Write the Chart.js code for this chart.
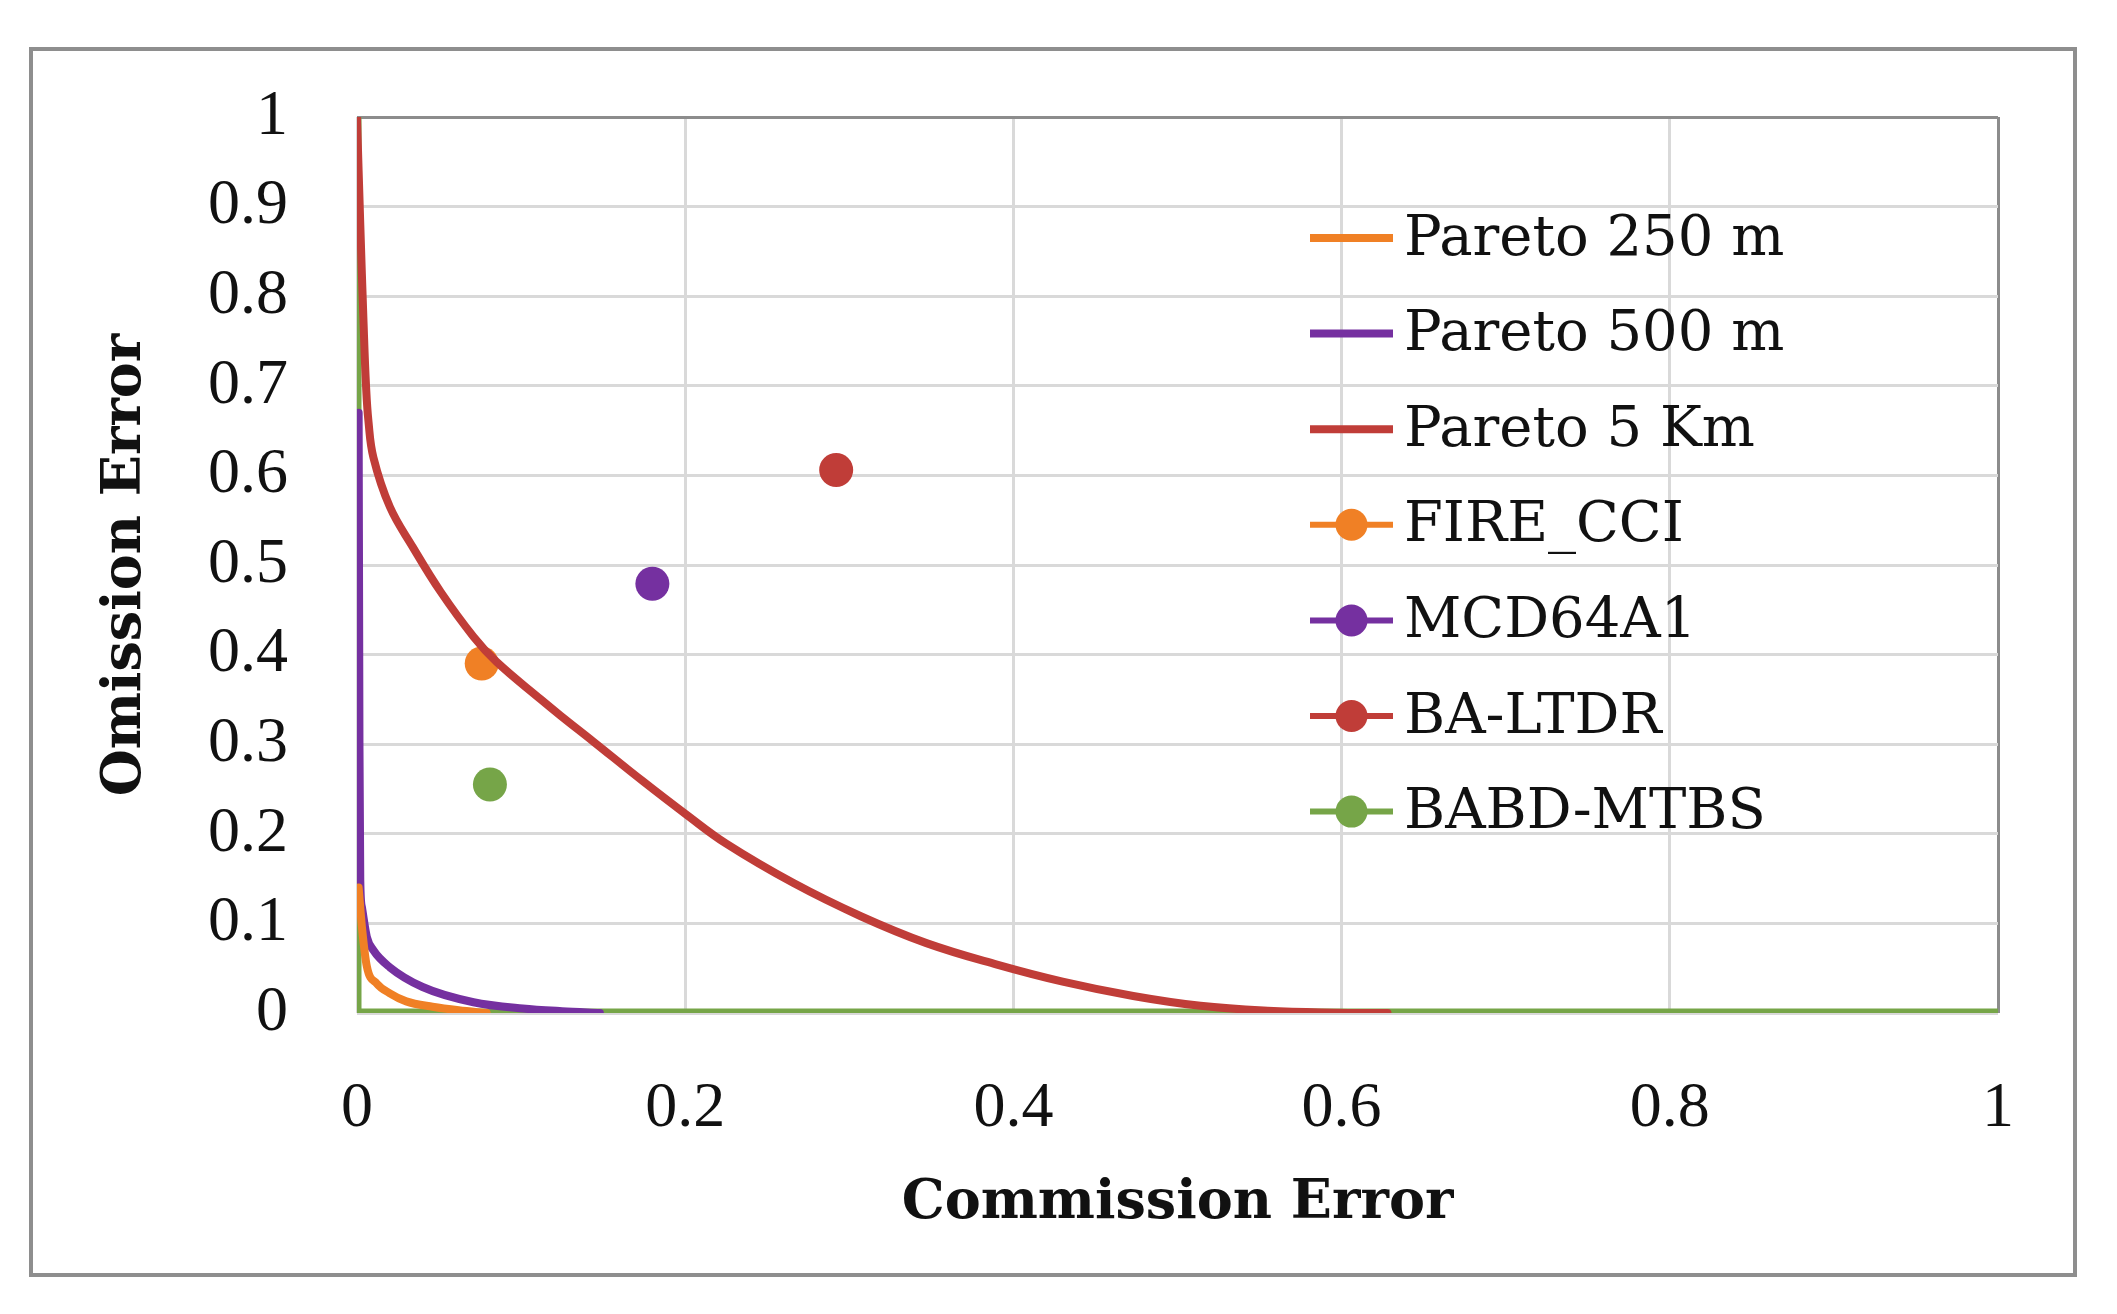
<!DOCTYPE html>
<html><head><meta charset="utf-8">
<script src="https://cdn.jsdelivr.net/npm/chart.js@4"></script>
<style>
html,body{margin:0;padding:0;background:#fff;}
#wrap{position:relative;width:2117px;height:1314px;overflow:hidden;}
#frame{position:absolute;left:29px;top:47px;width:2040px;height:1222px;border:4px solid #8e8e8e;}
canvas{position:absolute;left:0;top:0;}
</style></head><body>
<div id="wrap"><div id="frame"></div><canvas id="c" width="2117" height="1314"></canvas></div>
<script>
// ---- data ----
const seriesNames = ['Pareto 250 m','Pareto 500 m','Pareto 5 Km','FIRE_CCI','MCD64A1','BA-LTDR','BABD-MTBS'];

const pareto250X = [0.0010, 0.0030, 0.0060, 0.012, 0.020, 0.030, 0.046, 0.062, 0.079];
const pareto250Y = [0.14, 0.096, 0.052, 0.033, 0.022, 0.013, 0.007, 0.003, 0];

const pareto500X = [0.0010, 0.0015, 0.0020, 0.0030, 0.0060, 0.010, 0.020, 0.040, 0.071, 0.101, 0.125, 0.148];
const pareto500Y = [0.67, 0.30, 0.148, 0.118, 0.085, 0.070, 0.051, 0.029, 0.012, 0.005, 0.002, 0];

const pareto5kmX = [0, 0.002, 0.004, 0.0055, 0.007, 0.010, 0.020, 0.034, 0.051, 0.071, 0.085, 0.112, 0.124, 0.144, 0.174, 0.201, 0.225, 0.266, 0.307, 0.347, 0.390, 0.430, 0.473, 0.514, 0.555, 0.595, 0.628];
const pareto5kmY = [1, 0.88, 0.77, 0.70, 0.66, 0.62, 0.565, 0.52, 0.47, 0.42, 0.392, 0.350, 0.332, 0.303, 0.259, 0.221, 0.189, 0.145, 0.108, 0.078, 0.054, 0.035, 0.019, 0.008, 0.0025, 0.0004, 0];

const fireCciX = [0.076];  const fireCciY = [0.390];
const mcd64a1X = [0.180];  const mcd64a1Y = [0.479];
const baLtdrX  = [0.292];  const baLtdrY  = [0.606];
const babdMtbsX = [0.081]; const babdMtbsY = [0.255];

// green reference line along the axes
const axisLineX = [0, 0, 1];
const axisLineY = [1, 0, 0];

const xTickLabels = ['0','0.2','0.4','0.6','0.8','1'];
const yTickLabels = ['0','0.1','0.2','0.3','0.4','0.5','0.6','0.7','0.8','0.9','1'];

const colors = { orange:'#F08025', purple:'#7530A0', red:'#C03D38', green:'#76A548' };

const pts = (xs, ys) => xs.map((x, i) => ({x, y: ys[i]}));

const lineDs = (label, xs, ys, color, width, mode) => ({
  label, data: pts(xs, ys), showLine: true, borderColor: color, backgroundColor: color,
  borderWidth: width, pointRadius: 0, pointHoverRadius: 0,
  cubicInterpolationMode: mode, tension: 0.4, fill: false,
  borderCapStyle: 'round', borderJoinStyle: 'round'
});
const pointDs = (label, xs, ys, color) => ({
  label, data: pts(xs, ys), showLine: false, borderColor: color, backgroundColor: color,
  borderWidth: 0, pointRadius: 17, pointHoverRadius: 17
});

const datasets = [
  lineDs(seriesNames[0], pareto250X, pareto250Y, colors.orange, 8, 'monotone'),
  lineDs(seriesNames[1], pareto500X, pareto500Y, colors.purple, 8, 'monotone'),
  lineDs(seriesNames[2], pareto5kmX, pareto5kmY, colors.red, 8, 'default'),
  pointDs(seriesNames[3], fireCciX, fireCciY, colors.orange),
  pointDs(seriesNames[4], mcd64a1X, mcd64a1Y, colors.purple),
  pointDs(seriesNames[5], baLtdrX, baLtdrY, colors.red),
  pointDs(seriesNames[6], babdMtbsX, babdMtbsY, colors.green),
  Object.assign(lineDs('', axisLineX, axisLineY, colors.green, 9, 'default'),
    {tension: 0, borderJoinStyle: 'miter'})
];

const legendPlugin = {
  id: 'insideLegend',
  afterDatasetsDraw(chart, args, o) {
    const ctx = chart.ctx;
    ctx.save();
    ctx.font = o.font;
    ctx.textBaseline = 'middle';
    let y = o.top;
    chart.data.datasets.forEach(ds => {
      if (!ds.label) return;
      ctx.strokeStyle = ds.borderColor;
      ctx.lineWidth = ds.showLine ? o.lineWidth : o.markerLineWidth;
      ctx.beginPath(); ctx.moveTo(o.x1, y); ctx.lineTo(o.x2, y); ctx.stroke();
      if (!ds.showLine) {
        ctx.fillStyle = ds.backgroundColor;
        ctx.beginPath(); ctx.arc((o.x1 + o.x2) / 2, y, o.r, 0, Math.PI * 2); ctx.fill();
      }
      ctx.fillStyle = '#111';
      ctx.fillText(ds.label, o.textX, y + o.textDy);
      y += o.step;
    });
    ctx.restore();
  }
};

const gridColor = c => (c.tick && Math.abs(c.tick.value - 1) < 1e-6) ? '#8c8c8c' : '#d9d9d9';

new Chart(document.getElementById('c'), {
  type: 'scatter',
  data: { datasets },
  plugins: [legendPlugin],
  options: {
    responsive: false,
    animation: false,
    layout: { padding: { left: 0, top: 117, right: 119, bottom: 0 } },
    plugins: {
      legend: { display: false },
      tooltip: { enabled: false },
      insideLegend: {
        font: '56px "DejaVu Serif"', top: 238, step: 95.6,
        x1: 1310, x2: 1393, textX: 1404, textDy: 2,
        r: 16, lineWidth: 8, markerLineWidth: 6
      }
    },
    scales: {
      x: {
        type: 'linear', min: 0, max: 1,
        afterFit: s => { s.height = 301; },
        ticks: { stepSize: 0.2, padding: 58, color: '#111',
          font: { family: '"Liberation Serif"', size: 64 },
          callback: (v, i) => xTickLabels[i] },
        grid: { color: gridColor, lineWidth: 3, drawTicks: false },
        border: { display: false },
        title: { display: true, text: 'Commission Error', color: '#111',
          font: { family: '"DejaVu Serif"', size: 54, weight: 'bold' },
          padding: { top: 0, bottom: 78 } }
      },
      y: {
        type: 'linear', min: 0, max: 1,
        afterFit: s => { s.width = 357; },
        ticks: { stepSize: 0.1, padding: 69, color: '#111',
          font: { family: '"Liberation Serif"', size: 64 },
          callback: (v, i) => yTickLabels[i] },
        grid: { color: gridColor, lineWidth: 3, drawTicks: false },
        border: { display: false },
        title: { display: true, text: 'Omission Error', color: '#111',
          font: { family: '"DejaVu Serif"', size: 54, weight: 'bold' },
          padding: { top: 94, bottom: 0 } }
      }
    }
  }
});
</script>
</body></html>
